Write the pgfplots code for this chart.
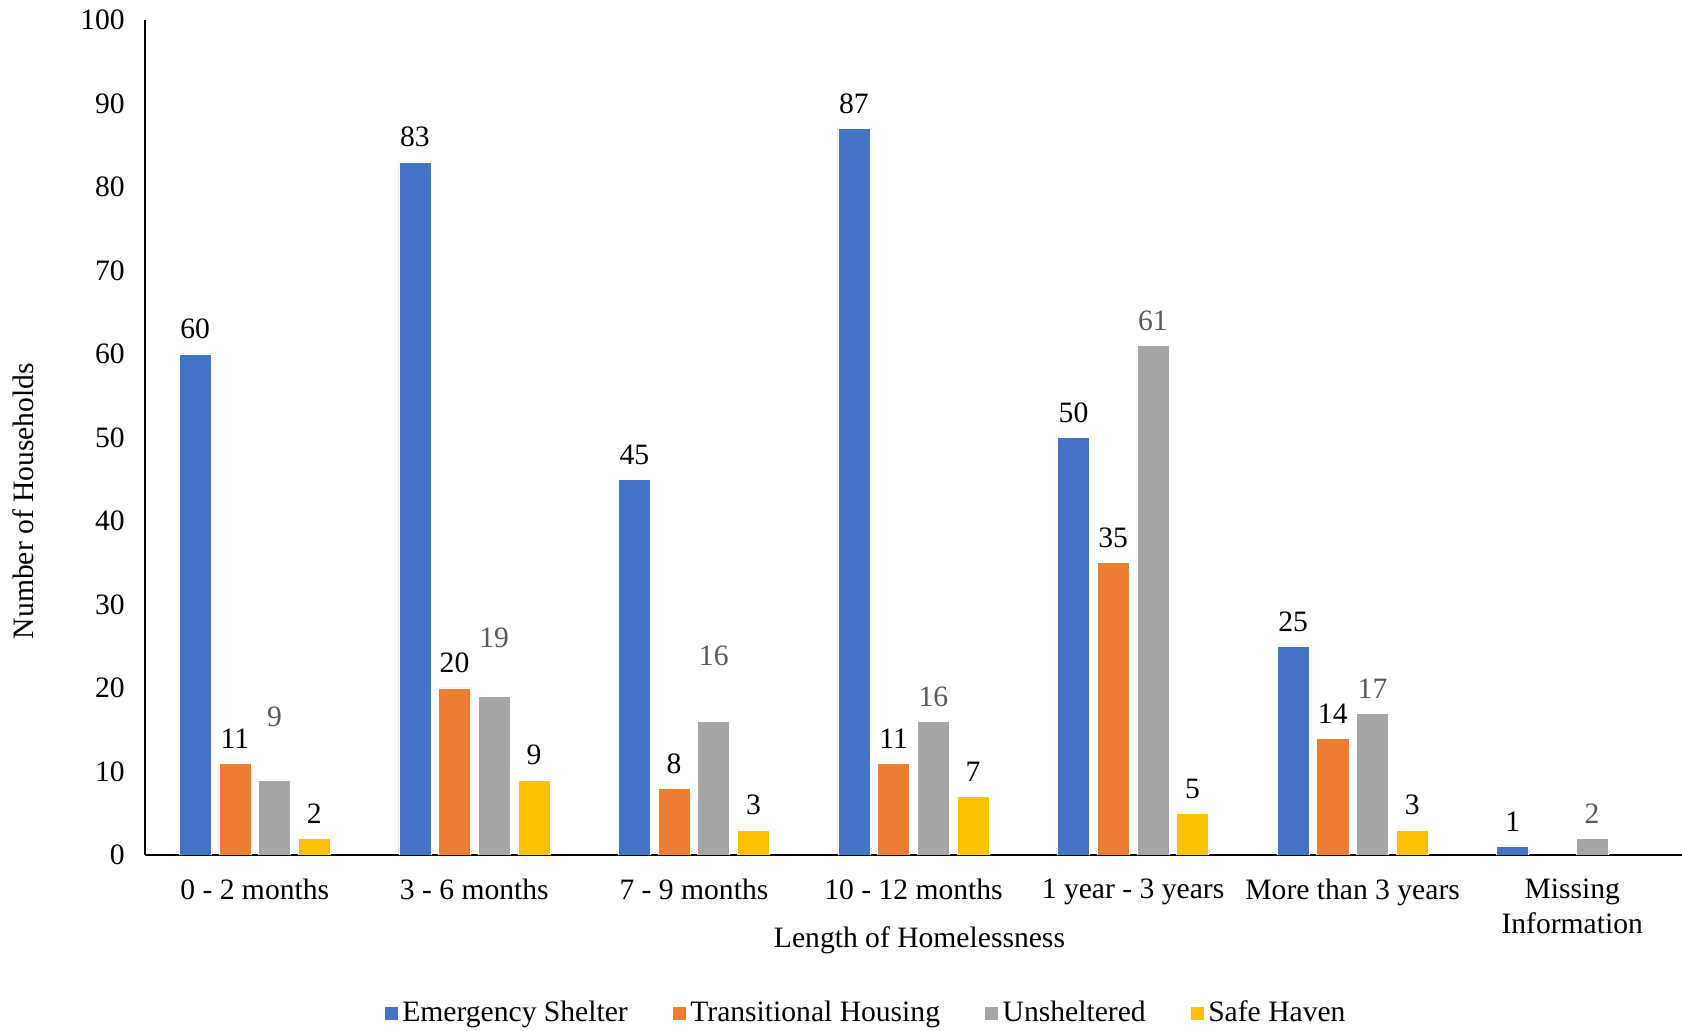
\documentclass[border=0pt]{standalone}
\usepackage{fontspec}
\setmainfont{Liberation Serif}
\usepackage{pgfplots}
\pgfplotsset{compat=1.18}
\definecolor{cES}{HTML}{4472C4}
\definecolor{cTH}{HTML}{ED7D31}
\definecolor{cUN}{HTML}{A5A5A5}
\definecolor{cSH}{HTML}{FFC000}
\definecolor{lblgray}{HTML}{595959}
\pgfplotstableread{
x y dy
0 9 19.3
1 19 17
2 16 20.4
3 16 0
4 61 0
5 17 0
6 2 0
}\unsheltered
\begin{document}
\fontsize{14.8}{17}\selectfont
\begin{tikzpicture}
\path[use as bounding box] (-72.5pt,-88pt) rectangle (768.5pt,427.5pt);
\begin{axis}[
  at={(0pt,0pt)}, anchor=south west,
  scale only axis, width=768.5pt, height=417.5pt,
  ybar=3.85pt, bar width=16pt,
  xmin=-0.5, xmax=6.5, ymin=0, ymax=100,
  axis x line=bottom, axis y line=left,
  axis line style={-, line width=0.9pt},
  major tick length=0pt,
  ytick={0,10,...,100},
  xtick={0,1,2,3,4,5,6},
  xticklabels={0 - 2 months,3 - 6 months,7 - 9 months,10 - 12 months,1 year - 3 years,More than 3 years,Missing\\Information},
  xticklabel style={align=center, yshift=-7pt, font=\fontsize{14.8}{17.2}\selectfont},
  yticklabel style={xshift=-5pt},
  /pgf/number format/assume math mode=true,
  xlabel={Length of Homelessness},
  ylabel={Number of Households},
  xlabel style={at={(axis description cs:0.5,0)}, anchor=center, yshift=-42.5pt, xshift=3pt},
  ylabel style={at={(axis description cs:-0.079,0.424)}, anchor=center},
  nodes near coords,
  every node near coord/.append style={yshift=2.3pt, font=\fontsize{14.8}{17}\selectfont},
  legend columns=4,
  legend style={at={(axis description cs:0.4695,-0.1892)}, anchor=center, draw=none,
    /tikz/every even column/.append style={column sep=20pt},
    font=\fontsize{14.8}{17}\selectfont, inner sep=0pt},
  legend image code/.code={\fill[#1] (0pt,-3.5pt) rectangle (7pt,3.5pt);},
]
\addplot[fill=cES, draw=white, line width=0.3pt] coordinates {(0,60) (1,83) (2,45) (3,87) (4,50) (5,25) (6,1)};
\addplot[fill=cTH, draw=white, line width=0.3pt] coordinates {(0,11) (1,20) (2,8) (3,11) (4,35) (5,14)};
\addplot[fill=cUN, draw=white, line width=0.3pt,
  visualization depends on={\thisrow{dy} \as \dyval},
  every node near coord/.append style={text=lblgray, yshift=\dyval pt}] table[x=x,y=y] {\unsheltered};
\addplot[fill=cSH, draw=white, line width=0.3pt] coordinates {(0,2) (1,9) (2,3) (3,7) (4,5) (5,3)};
\legend{Emergency Shelter,Transitional Housing,Unsheltered,Safe Haven}
\end{axis}
\end{tikzpicture}
\end{document}
